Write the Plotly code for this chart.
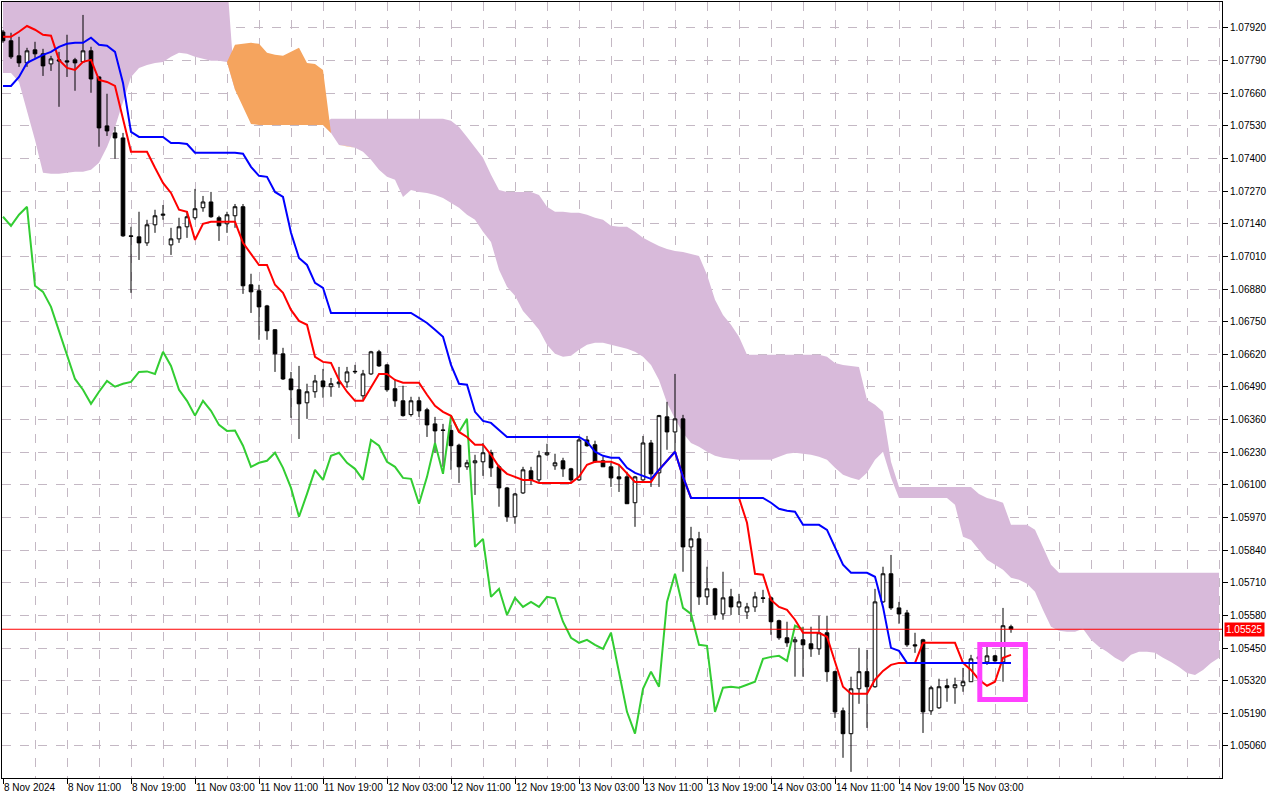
import numpy as np
import plotly.graph_objects as go

# EURUSD H1, Ichimoku (9, 26, 52)
time_labels = ['8 Nov 2024', '8 Nov 11:00', '8 Nov 19:00', '11 Nov 03:00', '11 Nov 11:00',
               '11 Nov 19:00', '12 Nov 03:00', '12 Nov 11:00', '12 Nov 19:00', '13 Nov 03:00',
               '13 Nov 11:00', '13 Nov 19:00', '14 Nov 03:00', '14 Nov 11:00', '14 Nov 19:00',
               '15 Nov 03:00']
label_bars = [0, 8, 16, 24, 32, 40, 48, 56, 64, 72, 80, 88, 96, 104, 112, 120]

price_labels = ['1.07920', '1.07790', '1.07660', '1.07530', '1.07400', '1.07270', '1.07140',
                '1.07010', '1.06880', '1.06750', '1.06620', '1.06490', '1.06360', '1.06230',
                '1.06100', '1.05970', '1.05840', '1.05710', '1.05580', '1.05450', '1.05320',
                '1.05190', '1.05060']

open_ = [1.07904, 1.07869, 1.07809, 1.07781, 1.07833, 1.07817, 1.07777, 1.07793, 1.07789, 1.07793,
         1.07785, 1.07829, 1.07725, 1.07530, 1.07502, 1.07482, 1.07092, 1.07088, 1.07064, 1.07136,
         1.07174, 1.07056, 1.07080, 1.07128, 1.07164, 1.07204, 1.07227, 1.07164, 1.07140, 1.07172,
         1.07208, 1.06897, 1.06873, 1.06813, 1.06718, 1.06622, 1.06522, 1.06479, 1.06427, 1.06471,
         1.06514, 1.06491, 1.06503, 1.06510, 1.06550, 1.06455, 1.06542, 1.06630, 1.06578, 1.06483,
         1.06435, 1.06380, 1.06435, 1.06399, 1.06343, 1.06319, 1.06317, 1.06258, 1.06172, 1.06188,
         1.06192, 1.06228, 1.06172, 1.06088, 1.05973, 1.06068, 1.06156, 1.06120, 1.06220, 1.06176,
         1.06196, 1.06164, 1.06120, 1.06279, 1.06260, 1.06196, 1.06172, 1.06132, 1.06132, 1.06029,
         1.06120, 1.06267, 1.06148, 1.06371, 1.06311, 1.06363, 1.05853, 1.05885, 1.05654, 1.05686,
         1.05586, 1.05654, 1.05614, 1.05594, 1.05614, 1.05650, 1.05650, 1.05559, 1.05491, 1.05475,
         1.05483, 1.05467, 1.05447, 1.05511, 1.05356, 1.05200, 1.05109, 1.05288, 1.05356, 1.05296,
         1.05634, 1.05746, 1.05610, 1.05590, 1.05463, 1.05483, 1.05200, 1.05212, 1.05300, 1.05292,
         1.05300, 1.05316, 1.05407, 1.05395, 1.05419, 1.05395, 1.05535]

high = [1.07912, 1.07901, 1.07885, 1.07841, 1.07865, 1.07837, 1.07809, 1.07825, 1.07893, 1.07801,
        1.07972, 1.07845, 1.07727, 1.07658, 1.07526, 1.07502, 1.07128, 1.07188, 1.07156, 1.07196,
        1.07215, 1.07124, 1.07164, 1.07188, 1.07279, 1.07251, 1.07267, 1.07172, 1.07188, 1.07219,
        1.07219, 1.06941, 1.06897, 1.06817, 1.06720, 1.06646, 1.06550, 1.06574, 1.06503, 1.06538,
        1.06562, 1.06526, 1.06570, 1.06570, 1.06578, 1.06558, 1.06634, 1.06638, 1.06582, 1.06522,
        1.06495, 1.06451, 1.06451, 1.06407, 1.06371, 1.06343, 1.06339, 1.06264, 1.06200, 1.06220,
        1.06267, 1.06240, 1.06180, 1.06092, 1.06068, 1.06172, 1.06172, 1.06236, 1.06264, 1.06224,
        1.06208, 1.06168, 1.06291, 1.06295, 1.06276, 1.06212, 1.06188, 1.06180, 1.06152, 1.06136,
        1.06295, 1.06279, 1.06379, 1.06431, 1.06542, 1.06379, 1.05933, 1.05913, 1.05774, 1.05690,
        1.05754, 1.05686, 1.05666, 1.05630, 1.05674, 1.05682, 1.05654, 1.05563, 1.05555, 1.05495,
        1.05535, 1.05535, 1.05579, 1.05579, 1.05360, 1.05213, 1.05336, 1.05451, 1.05443, 1.05686,
        1.05774, 1.05821, 1.05634, 1.05602, 1.05511, 1.05487, 1.05300, 1.05328, 1.05328, 1.05332,
        1.05371, 1.05423, 1.05443, 1.05455, 1.05423, 1.05610, 1.05543]

low = [1.07861, 1.07797, 1.07765, 1.07765, 1.07801, 1.07729, 1.07749, 1.07606, 1.07725, 1.07670,
       1.07783, 1.07662, 1.07447, 1.07490, 1.07399, 1.07088, 1.06865, 1.06996, 1.07052, 1.07104,
       1.07156, 1.07016, 1.07064, 1.07084, 1.07156, 1.07188, 1.07164, 1.07072, 1.07104, 1.07124,
       1.06861, 1.06785, 1.06678, 1.06678, 1.06550, 1.06518, 1.06367, 1.06283, 1.06363, 1.06447,
       1.06447, 1.06451, 1.06487, 1.06487, 1.06542, 1.06439, 1.06538, 1.06570, 1.06471, 1.06411,
       1.06372, 1.06372, 1.06371, 1.06291, 1.06228, 1.06172, 1.06160, 1.06108, 1.06160, 1.06060,
       1.06136, 1.06132, 1.06013, 1.05953, 1.05945, 1.06064, 1.06100, 1.06108, 1.06216, 1.06160,
       1.06132, 1.06112, 1.06116, 1.06252, 1.06188, 1.06172, 1.06092, 1.06072, 1.06025, 1.05933,
       1.06112, 1.06092, 1.06092, 1.06240, 1.06232, 1.05754, 1.05555, 1.05622, 1.05622, 1.05563,
       1.05563, 1.05582, 1.05582, 1.05566, 1.05594, 1.05630, 1.05503, 1.05483, 1.05455, 1.05336,
       1.05336, 1.05415, 1.05423, 1.05316, 1.05172, 1.05013, 1.04957, 1.05228, 1.05132, 1.05292,
       1.05630, 1.05602, 1.05547, 1.05455, 1.05431, 1.05112, 1.05184, 1.05208, 1.05236, 1.05228,
       1.05276, 1.05316, 1.05383, 1.05383, 1.05395, 1.05316, 1.05511]

close = [1.07869, 1.07805, 1.07781, 1.07829, 1.07817, 1.07769, 1.07797, 1.07789, 1.07785, 1.07781,
         1.07829, 1.07717, 1.07522, 1.07510, 1.07482, 1.07092, 1.07090, 1.07064, 1.07136, 1.07172,
         1.07178, 1.07080, 1.07128, 1.07168, 1.07200, 1.07227, 1.07168, 1.07132, 1.07176, 1.07208,
         1.06893, 1.06869, 1.06809, 1.06714, 1.06622, 1.06522, 1.06479, 1.06423, 1.06471, 1.06514,
         1.06491, 1.06503, 1.06510, 1.06550, 1.06552, 1.06542, 1.06630, 1.06574, 1.06479, 1.06435,
         1.06376, 1.06435, 1.06395, 1.06339, 1.06315, 1.06317, 1.06256, 1.06172, 1.06188, 1.06196,
         1.06228, 1.06168, 1.06088, 1.05973, 1.06064, 1.06160, 1.06120, 1.06216, 1.06228, 1.06188,
         1.06164, 1.06120, 1.06279, 1.06256, 1.06192, 1.06172, 1.06128, 1.06124, 1.06025, 1.06132,
         1.06267, 1.06144, 1.06376, 1.06311, 1.06363, 1.05853, 1.05885, 1.05654, 1.05686, 1.05582,
         1.05650, 1.05614, 1.05634, 1.05614, 1.05654, 1.05648, 1.05555, 1.05491, 1.05471, 1.05483,
         1.05463, 1.05447, 1.05511, 1.05356, 1.05196, 1.05109, 1.05288, 1.05356, 1.05296, 1.05634,
         1.05746, 1.05610, 1.05586, 1.05463, 1.05459, 1.05196, 1.05292, 1.05296, 1.05292, 1.05304,
         1.05316, 1.05407, 1.05415, 1.05419, 1.05399, 1.05539, 1.05525]

tenkan = [1.07885, 1.07885, 1.07905, 1.07928, 1.07913, 1.07893, 1.07889, 1.07793, 1.07761, 1.07753,
          1.07785, 1.07793, 1.07713, 1.07705, 1.07689, 1.07558, 1.07427, 1.07427, 1.07427, 1.07363,
          1.07303, 1.07263, 1.07196, 1.07188, 1.07076, 1.07140, 1.07148, 1.07148, 1.07148, 1.07148,
          1.07064, 1.07020, 1.06976, 1.06976, 1.06897, 1.06865, 1.06797, 1.06753, 1.06738, 1.06610,
          1.06590, 1.06586, 1.06518, 1.06471, 1.06435, 1.06435, 1.06491, 1.06542, 1.06542, 1.06518,
          1.06507, 1.06507, 1.06507, 1.06459, 1.06415, 1.06391, 1.06375, 1.06311, 1.06291, 1.06260,
          1.06260, 1.06220, 1.06172, 1.06144, 1.06132, 1.06120, 1.06120, 1.06108, 1.06108, 1.06108,
          1.06108, 1.06108, 1.06132, 1.06180, 1.06192, 1.06192, 1.06192, 1.06180, 1.06148, 1.06112,
          1.06112, 1.06112, 1.06160, 1.06196, 1.06232, 1.06132, 1.06048, 1.06048, 1.06048, 1.06048,
          1.06048, 1.06048, 1.06048, 1.05949, 1.05746, 1.05742, 1.05642, 1.05614, 1.05602, 1.05563,
          1.05511, 1.05511, 1.05511, 1.05495, 1.05395, 1.05296, 1.05268, 1.05268, 1.05268, 1.05324,
          1.05359, 1.05383, 1.05391, 1.05391, 1.05391, 1.05471, 1.05471, 1.05471, 1.05471, 1.05471,
          1.05391, 1.05363, 1.05324, 1.05300, 1.05316, 1.05411, 1.05423]

kijun = [1.07689, 1.07689, 1.07725, 1.07781, 1.07797, 1.07813, 1.07825, 1.07845, 1.07857, 1.07861,
         1.07861, 1.07881, 1.07853, 1.07849, 1.07825, 1.07701, 1.07506, 1.07486, 1.07486, 1.07486,
         1.07486, 1.07462, 1.07462, 1.07458, 1.07423, 1.07423, 1.07423, 1.07423, 1.07423, 1.07423,
         1.07419, 1.07367, 1.07331, 1.07327, 1.07267, 1.07247, 1.07104, 1.07004, 1.06976, 1.06905,
         1.06885, 1.06785, 1.06785, 1.06785, 1.06785, 1.06785, 1.06785, 1.06785, 1.06785, 1.06785,
         1.06785, 1.06785, 1.06765, 1.06745, 1.06718, 1.06690, 1.06578, 1.06503, 1.06499, 1.06391,
         1.06355, 1.06347, 1.06319, 1.06291, 1.06291, 1.06291, 1.06291, 1.06291, 1.06291, 1.06291,
         1.06291, 1.06291, 1.06291, 1.06272, 1.06232, 1.06216, 1.06208, 1.06208, 1.06168, 1.06148,
         1.06136, 1.06124, 1.06160, 1.06196, 1.06232, 1.06132, 1.06048, 1.06048, 1.06048, 1.06048,
         1.06048, 1.06048, 1.06048, 1.06048, 1.06048, 1.06048, 1.06029, 1.06005, 1.05997, 1.05993,
         1.05941, 1.05941, 1.05941, 1.05921, 1.05853, 1.05782, 1.05750, 1.05750, 1.05750, 1.05734,
         1.05614, 1.05451, 1.05439, 1.05391, 1.05391, 1.05391, 1.05391, 1.05391, 1.05391, 1.05391,
         1.05391, 1.05391, 1.05391, 1.05391, 1.05391, 1.05391, 1.05391]

# senkou spans already shifted 26 bars forward (bars 0..152)
senkou_a = [1.07741, 1.07741, 1.07705, 1.07594, 1.07474, 1.07343, 1.07339, 1.07339, 1.07343, 1.07347,
            1.07347, 1.07355, 1.07383, 1.07446, 1.07526, 1.07622, 1.07725, 1.07761, 1.07773, 1.07781,
            1.07785, 1.07805, 1.07821, 1.07817, 1.07805, 1.07797, 1.07789, 1.07789, 1.07785, 1.07853,
            1.07857, 1.07861, 1.07857, 1.07821, 1.07813, 1.07809, 1.07825, 1.07841, 1.07781, 1.07777,
            1.07753, 1.07502, 1.07454, 1.07450, 1.07443, 1.07427, 1.07395, 1.07355, 1.07327, 1.07315,
            1.07247, 1.07275, 1.07267, 1.07263, 1.07255, 1.07243, 1.07223, 1.07204, 1.07176, 1.07156,
            1.07108, 1.07068, 1.06957, 1.06889, 1.06853, 1.06793, 1.06757, 1.06718, 1.06658, 1.06622,
            1.06610, 1.06614, 1.06638, 1.06658, 1.06666, 1.06666, 1.06658, 1.06650, 1.06642, 1.06630,
            1.06610, 1.06578, 1.06518, 1.06427, 1.06363, 1.06307, 1.06267, 1.06252, 1.06232, 1.06216,
            1.06208, 1.06204, 1.06200, 1.06200, 1.06200, 1.06200, 1.06200, 1.06212, 1.06224, 1.06228,
            1.06224, 1.06220, 1.06212, 1.06200, 1.06168, 1.06140, 1.06128, 1.06120, 1.06148, 1.06200,
            1.06232, 1.06128, 1.06048, 1.06048, 1.06048, 1.06048, 1.06048, 1.06048, 1.06048, 1.06021,
            1.05893, 1.05881, 1.05841, 1.05802, 1.05782, 1.05762, 1.05730, 1.05722, 1.05706, 1.05674,
            1.05602, 1.05535, 1.05519, 1.05515, 1.05515, 1.05527, 1.05483, 1.05455, 1.05435, 1.05411,
            1.05395, 1.05423, 1.05435, 1.05435, 1.05431, 1.05411, 1.05395, 1.05375, 1.05351, 1.05343,
            1.05363, 1.05391, 1.05411]

senkou_b = [1.08110, 1.08110, 1.08110, 1.08110, 1.08110, 1.08110, 1.08110, 1.08110, 1.08110, 1.08110,
            1.08110, 1.08110, 1.08110, 1.08110, 1.08110, 1.08110, 1.08110, 1.08110, 1.08110, 1.08110,
            1.08110, 1.08110, 1.08110, 1.08110, 1.08110, 1.08110, 1.08110, 1.08110, 1.08110, 1.07674,
            1.07606, 1.07538, 1.07534, 1.07534, 1.07534, 1.07534, 1.07534, 1.07534, 1.07534, 1.07534,
            1.07534, 1.07558, 1.07558, 1.07558, 1.07558, 1.07558, 1.07558, 1.07558, 1.07558, 1.07558,
            1.07558, 1.07558, 1.07558, 1.07558, 1.07558, 1.07558, 1.07550, 1.07526, 1.07486, 1.07446,
            1.07403, 1.07335, 1.07275, 1.07267, 1.07267, 1.07267, 1.07267, 1.07255, 1.07208, 1.07188,
            1.07188, 1.07184, 1.07184, 1.07176, 1.07164, 1.07156, 1.07132, 1.07128, 1.07128, 1.07108,
            1.07084, 1.07068, 1.07052, 1.07040, 1.07032, 1.07028, 1.07020, 1.07012, 1.06937, 1.06837,
            1.06777, 1.06738, 1.06690, 1.06618, 1.06618, 1.06618, 1.06618, 1.06618, 1.06618, 1.06618,
            1.06618, 1.06618, 1.06618, 1.06610, 1.06586, 1.06578, 1.06574, 1.06570, 1.06439, 1.06419,
            1.06391, 1.06192, 1.06092, 1.06092, 1.06092, 1.06092, 1.06092, 1.06092, 1.06092, 1.06092,
            1.06092, 1.06092, 1.06064, 1.06048, 1.06040, 1.06029, 1.05941, 1.05941, 1.05941, 1.05921,
            1.05849, 1.05782, 1.05750, 1.05750, 1.05750, 1.05750, 1.05750, 1.05750, 1.05750, 1.05750,
            1.05750, 1.05750, 1.05750, 1.05750, 1.05750, 1.05750, 1.05750, 1.05750, 1.05750, 1.05750,
            1.05750, 1.05750, 1.05750]

bid = 1.05525
chikou_shift = 26

bars = np.arange(len(close))
cloud_x = np.arange(len(senkou_a))
span_a = np.array(senkou_a)
span_b = np.array(senkou_b)
span_low = np.minimum(span_a, span_b)
price_ticks = [float(p) for p in price_labels]

x_range = [-0.125, 152.375]
y_range = [1.049325, 1.080235]
grid_col = '#C4B8C4'

fig = go.Figure()

# kumo on the base axes: thistle where B is above A, sandy brown where A is above B
for upper, col in [(span_b, 'rgb(216,186,218)'), (span_a, 'rgb(245,164,94)')]:
    fig.add_trace(go.Scatter(x=cloud_x, y=span_low, mode='lines', line=dict(width=0),
                             hoverinfo='skip', showlegend=False))
    fig.add_trace(go.Scatter(x=cloud_x, y=upper, mode='lines', line=dict(width=0),
                             fill='tonexty', fillcolor=col, hoverinfo='skip', showlegend=False))

# price and lines on overlaid axes so they sit above the cloud
fig.add_trace(go.Candlestick(
    x=bars, open=open_, high=high, low=low, close=close, xaxis='x2', yaxis='y2',
    increasing=dict(line=dict(color='black', width=1), fillcolor='white'),
    decreasing=dict(line=dict(color='black', width=1), fillcolor='black'),
    whiskerwidth=0, hoverinfo='skip', showlegend=False))

# chikou span = close drawn 26 bars back
fig.add_trace(go.Scatter(x=bars[:-chikou_shift], y=close[chikou_shift:], mode='lines',
                         xaxis='x2', yaxis='y2',
                         line=dict(color='#32CD32', width=2), showlegend=False))
fig.add_trace(go.Scatter(x=bars, y=tenkan, mode='lines', xaxis='x2', yaxis='y2',
                         line=dict(color='#FF0000', width=2), showlegend=False))
fig.add_trace(go.Scatter(x=bars, y=kijun, mode='lines', xaxis='x2', yaxis='y2',
                         line=dict(color='#0000FF', width=2), showlegend=False))

# bid line and the marked box
fig.add_shape(type='line', xref='paper', x0=0, x1=1, yref='y', y0=bid, y1=bid,
              line=dict(color='#FF0000', width=1))
fig.add_shape(type='rect', xref='x', yref='y', x0=122.1, x1=127.8, y0=1.05245, y1=1.05464,
              line=dict(color='#FF40FF', width=5))

fig.add_annotation(x=1, xref='paper', y=bid, yref='y', xanchor='left', xshift=2,
                   text='1.05525', showarrow=False, bgcolor='#FF0000', borderpad=1,
                   font=dict(color='white', size=10))

for b, txt in zip(label_bars, time_labels):
    fig.add_annotation(x=b, xref='x', y=0, yref='paper', xanchor='left', yanchor='top',
                       yshift=-2, xshift=-1, text=txt, showarrow=False, font=dict(size=10))

fig.update_layout(
    width=1280, height=800,
    margin=dict(l=2, r=58, t=2, b=22),
    paper_bgcolor='white', plot_bgcolor='white',
    font=dict(family='Liberation Sans', size=10, color='black'),
    showlegend=False, boxgap=0.35, hovermode=False,
    xaxis=dict(
        range=x_range, rangeslider=dict(visible=False), zeroline=False,
        tickvals=label_bars, showticklabels=False, ticks='outside', ticklen=5,
        tickcolor='black', showgrid=False,
        showline=True, linecolor='black', linewidth=1, mirror=True,
        minor=dict(tickvals=list(range(4, 153, 4)), showgrid=True, gridcolor=grid_col,
                   griddash='dash', gridwidth=1, ticks=''),
    ),
    yaxis=dict(
        side='right', range=y_range, zeroline=False,
        tickvals=price_ticks, ticktext=price_labels, ticks='outside', ticklen=5,
        tickcolor='black', showgrid=True, gridcolor=grid_col, griddash='dash', gridwidth=1,
        showline=True, linecolor='black', linewidth=1, mirror=True,
    ),
    xaxis2=dict(overlaying='x', range=x_range, visible=False, showgrid=False,
                rangeslider=dict(visible=False)),
    yaxis2=dict(overlaying='y', range=y_range, visible=False, showgrid=False, side='right'),
)

fig.write_html("out.html", config={'displayModeBar': False},
               post_script="document.body.style.margin='0px';")
